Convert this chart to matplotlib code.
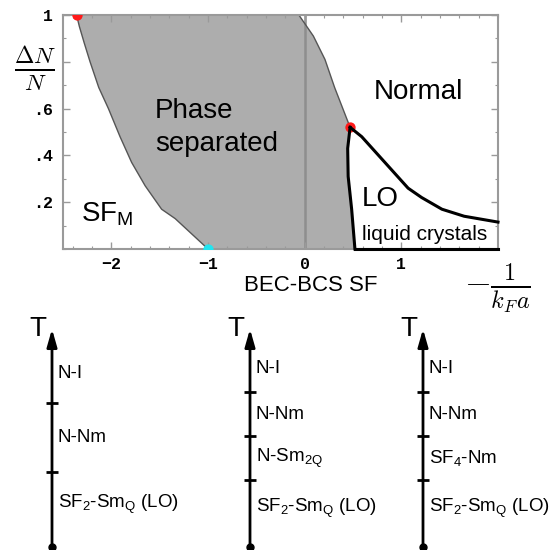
import numpy as np
import matplotlib
matplotlib.use('Agg')
import matplotlib.pyplot as plt
from matplotlib.ticker import MultipleLocator

plt.rcParams['font.family'] = ['Liberation Sans', 'DejaVu Sans']
plt.rcParams['mathtext.fontset'] = 'custom'
plt.rcParams['mathtext.rm'] = 'Liberation Sans'
plt.rcParams['mathtext.it'] = 'Liberation Sans:italic'
plt.rcParams['mathtext.bf'] = 'Liberation Sans:bold'

# --- phase diagram data ---
# left edge of the phase separated region, top -> bottom
left_x = [-2.36, -2.33, -2.28, -2.22, -2.13, -2.03, -1.91, -1.79, -1.65, -1.48, -1.34, -1.0]
left_y = [1.0, 0.95, 0.88, 0.80, 0.69, 0.60, 0.48, 0.37, 0.27, 0.17, 0.13, 0.0]
# upper right edge, top -> tricritical point
upper_x = [-0.06, 0.09, 0.21, 0.31, 0.47]
upper_y = [1.0, 0.91, 0.81, 0.69, 0.52]
# LO / phase separated boundary, tricritical point -> bottom
lo_in_x = [0.47, 0.445, 0.45, 0.486, 0.52]
lo_in_y = [0.52, 0.43, 0.31, 0.17, 0.0]
# LO / normal boundary
lo_out_x = [0.47, 0.59, 0.83, 1.07, 1.21, 1.42, 1.65, 2.0]
lo_out_y = [0.52, 0.48, 0.37, 0.26, 0.22, 0.17, 0.14, 0.115]
# special points
red_x = [-2.36, 0.47]
red_y = [1.0, 0.52]
cyan_x = [-1.0]
cyan_y = [0.0]

xticks = [-2, -1, 0, 1]
xticklabels = ['\u22122', '\u22121', '0', '1']
yticks = [0.2, 0.4, 0.6, 0.8, 1.0]
yticklabels = ['.2', '.4', '.6', '', '1']

# --- temperature sequences (bottom) ---
seq_ticks = [[0.344, 0.66],
             [0.307, 0.509, 0.711],
             [0.307, 0.509, 0.711]]
seq_labels = [[r'SF$_2$-Sm$_\mathrm{Q}$ (LO)', 'N-Nm', 'N-I'],
              [r'SF$_2$-Sm$_\mathrm{Q}$ (LO)', r'N-Sm$_{2\mathrm{Q}}$', 'N-Nm', 'N-I'],
              [r'SF$_2$-Sm$_\mathrm{Q}$ (LO)', r'SF$_4$-Nm', 'N-Nm', 'N-I']]
seq_xpix = [52, 250, 423]

W, H = 553, 550
fig = plt.figure(figsize=(W / 100, H / 100), dpi=100)

ax = fig.add_axes([63 / W, 1 - 249 / H, 435 / W, 234 / H])
ax.set_xlim(-2.5, 2.0)
ax.set_ylim(0, 1)

# gray region
poly_x = np.concatenate([left_x, lo_in_x[::-1], upper_x[::-1]])
poly_y = np.concatenate([left_y, lo_in_y[::-1], upper_y[::-1]])
ax.fill(poly_x, poly_y, color='#adadad', lw=0, zorder=1)
ax.plot(left_x, left_y, color='#555555', lw=1, zorder=2)
ax.plot(upper_x, upper_y, color='#555555', lw=1, zorder=2)
ax.axvline(0, color='#8e8e8e', lw=1.8, zorder=1.5)

ax.scatter(red_x, red_y, s=55, color='#ff1a1a', lw=0, zorder=3)
ax.scatter(cyan_x, cyan_y, s=55, color='#22e5f0', lw=0, zorder=3)

ax.plot(lo_in_x, lo_in_y, color='k', lw=2.2, zorder=4, clip_on=False)
ax.plot(lo_out_x, lo_out_y, color='k', lw=2.2, zorder=4, clip_on=False)
ax.plot([lo_in_x[-1], lo_out_x[-1]], [0, 0], color='k', lw=2.2, zorder=4, clip_on=False)

ax.text(-1.55, 0.52, 'Phase\nseparated', fontsize=20, ha='left', va='center', linespacing=1.35)
ax.text(0.71, 0.67, 'Normal', fontsize=20, ha='left', va='center')
ax.text(-2.31, 0.15, r'SF$_\mathrm{M}$', fontsize=20, ha='left', va='center')
ax.text(0.59, 0.215, 'LO', fontsize=20, ha='left', va='center')
ax.text(0.59, 0.06, 'liquid crystals', fontsize=15, ha='left', va='center')

for s in ax.spines.values():
    s.set_color('#9a9a9a')
    s.set_linewidth(1.5)
ax.set_xticks(xticks)
ax.set_xticklabels(xticklabels, fontfamily=['Liberation Mono', 'DejaVu Sans Mono'],
                   fontweight='bold', fontsize=12)
ax.set_yticks(yticks)
ax.set_yticklabels(yticklabels, fontfamily=['Liberation Mono', 'DejaVu Sans Mono'],
                   fontweight='bold', fontsize=12)
ax.xaxis.set_minor_locator(MultipleLocator(0.2))
ax.yaxis.set_minor_locator(MultipleLocator(0.1))
ax.tick_params(which='both', direction='in', top=True, right=True, color='#9a9a9a')
ax.tick_params(which='major', length=5, width=1)
ax.tick_params(which='minor', length=2.5, width=0.8)
ax.tick_params(axis='x', pad=6)
ax.tick_params(axis='y', pad=7)

ax.text(-0.064, 0.77, r'$\frac{\Delta N}{N}$', transform=ax.transAxes, fontsize=24,
        ha='center', va='center', math_fontfamily='cm')
ax.text(0.998, -0.167, r'$-\frac{1}{k_F a}$', transform=ax.transAxes, fontsize=25,
        ha='center', va='center', math_fontfamily='cm')
ax.text(0.57, -0.154, 'BEC-BCS SF', transform=ax.transAxes, fontsize=16,
        ha='center', va='center')

# temperature arrows
for xpix, ticks, labels in zip(seq_xpix, seq_ticks, seq_labels):
    bx = fig.add_axes([xpix / W, 3 / H, 110 / W, 218 / H])
    bx.set_xlim(0, 1)
    bx.set_ylim(0, 1)
    bx.axis('off')
    bx.annotate('', xy=(0, 1), xytext=(0, 0),
                arrowprops=dict(arrowstyle='-|>,head_length=0.7,head_width=0.2',
                                color='k', lw=2, shrinkA=0, shrinkB=0, mutation_scale=15))
    bx.plot([0] * len(ticks), ticks, ls='none', marker='_', ms=9, mew=2, color='k', clip_on=False)
    bx.plot([0], [0], 'o', ms=5, color='k', clip_on=False)
    bounds = [0.05] + ticks + [0.93]
    for i, lab in enumerate(labels):
        ymid = (bounds[i] + bounds[i + 1]) / 2
        bx.annotate(lab, xy=(0, ymid), xytext=(4, 0), textcoords='offset points',
                    fontsize=13.5, ha='left', va='center')
    bx.annotate('T', xy=(0, 1), xytext=(-4, 0), textcoords='offset points',
                fontsize=20, ha='right', va='center')

fig.savefig('out.png', dpi=100)
